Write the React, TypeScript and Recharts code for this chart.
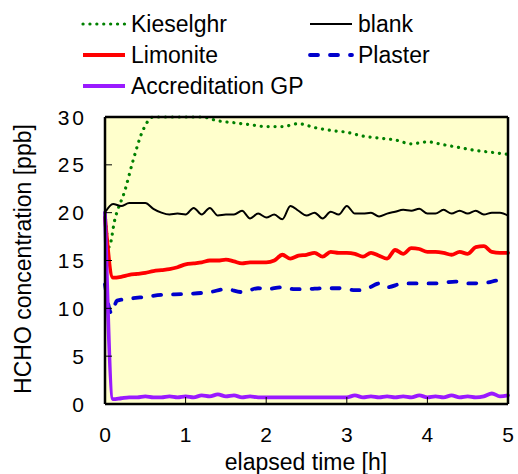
import React from 'react';
import { LineChart, Line, XAxis, YAxis, ReferenceArea, ReferenceLine } from 'recharts';

// Tiempos comunes (h) cada 0.1 h
const TIMES = [
  0, 0.1, 0.2, 0.3, 0.4, 0.5, 0.6, 0.7, 0.8, 0.9,
  1.0, 1.1, 1.2, 1.3, 1.4, 1.5, 1.6, 1.7, 1.8, 1.9,
  2.0, 2.1, 2.2, 2.3, 2.4, 2.5, 2.6, 2.7, 2.8, 2.9,
  3.0, 3.1, 3.2, 3.3, 3.4, 3.5, 3.6, 3.7, 3.8, 3.9,
  4.0, 4.1, 4.2, 4.3, 4.4, 4.5, 4.6, 4.7, 4.8, 4.9,
  5.0,
];

const BLANK = [
  20.0, 20.9, 20.7, 21.0, 21.0, 21.0, 20.4, 20.0, 19.8, 19.9,
  19.8, 20.5, 19.8, 20.5, 19.7, 19.8, 19.8, 20.2, 19.4, 19.9,
  19.5, 19.8, 19.3, 20.7, 20.2, 19.7, 20.0, 19.4, 20.1, 19.8,
  20.7, 19.9, 19.9, 20.0, 19.6, 19.9, 20.1, 20.3, 20.2, 20.4,
  19.9, 19.9, 20.3, 19.9, 20.2, 19.9, 20.2, 19.8, 20.0, 20.0,
  19.7,
];

const LIMONITE = [
  19.5, 13.2, 13.3, 13.5, 13.6, 13.7, 13.9, 14.0, 14.1, 14.3,
  14.6, 14.7, 14.8, 15.0, 15.0, 15.1, 14.9, 14.7, 14.8, 14.8,
  14.8, 15.0, 15.6, 15.2, 15.5, 15.6, 15.8, 15.4, 15.9, 15.8,
  15.8, 15.7, 15.4, 15.8, 15.5, 15.2, 16.1, 15.7, 16.3, 16.2,
  15.9, 15.9, 15.8, 15.6, 15.9, 15.7, 16.4, 16.5, 15.9, 15.8,
  15.8,
];

const ACCREDITATION = [
  20, 0.5, 0.6, 0.7, 0.7, 0.8, 0.7, 0.7, 0.8, 0.7,
  0.8, 0.7, 0.9, 0.8, 1.0, 0.8, 0.9, 0.7, 0.8, 0.7,
  0.7, 0.7, 0.7, 0.7, 0.7, 0.7, 0.7, 0.7, 0.7, 0.7,
  0.7, 0.9, 0.7, 0.8, 0.7, 0.8, 0.7, 0.8, 0.7, 0.9,
  0.7, 0.8, 0.7, 0.9, 0.7, 0.8, 0.7, 0.8, 1.1, 0.8,
  0.9,
];

const KIESEL_TIMES = [0, 0.05, 0.12, 0.25, 0.35, 0.47, 0.6, 0.8, 1.0, 1.2, 1.4, 1.6, 1.8, 2.0, 2.2, 2.4, 2.6, 2.8, 3.0, 3.2, 3.4, 3.6, 3.8, 4.0, 4.2, 4.4, 4.6, 4.8, 5.0];
const KIESEL = [20, 16.4, 19.2, 22.4, 25.5, 28.6, 30, 30, 30, 30, 29.6, 29.4, 29.2, 29.0, 29.0, 29.3, 28.9, 28.6, 28.4, 28.0, 27.8, 27.6, 27.2, 27.4, 27.1, 26.8, 26.5, 26.3, 26.1];

const PLASTER_TIMES = [0, 0.08, 0.15, 0.3, 0.5, 0.7, 1.0, 1.3, 1.5, 1.7, 1.9, 2.0, 2.2, 2.35, 2.5, 2.7, 2.9, 3.1, 3.2, 3.4, 3.5, 3.7, 3.9, 4.1, 4.35, 4.5, 4.75, 4.85, 5.0];
const PLASTER = [12.5, 9.5, 10.8, 11.0, 11.2, 11.4, 11.5, 11.7, 12.0, 11.7, 12.1, 12.0, 12.2, 12.0, 12.0, 12.1, 12.1, 11.9, 11.9, 12.6, 12.2, 12.6, 12.6, 12.6, 12.8, 12.6, 12.7, 12.9, 13.0];

const X_TICKS = [0, 1, 2, 3, 4, 5];
const Y_TICKS = [0, 5, 10, 15, 20, 25, 30];

const FONT = '"Liberation Sans", Arial, sans-serif';

const toPoints = (xs: number[], ys: number[]) => xs.map((t, i) => ({ t, v: ys[i] }));

const SERIES = [
  { name: 'Kieselghr', color: '#008000', width: 3.2, dash: '0.1 6.8', data: toPoints(KIESEL_TIMES, KIESEL) },
  { name: 'blank', color: '#000000', width: 2, dash: undefined, data: toPoints(TIMES, BLANK) },
  { name: 'Limonite', color: '#ff0000', width: 3.8, dash: undefined, data: toPoints(TIMES, LIMONITE) },
  { name: 'Plaster', color: '#0000cc', width: 3.8, dash: '8 12', data: toPoints(PLASTER_TIMES, PLASTER) },
  { name: 'Accreditation GP', color: '#9a1aff', width: 3.8, dash: undefined, data: toPoints(TIMES, ACCREDITATION) },
];

function XTick({ x, y, payload }: any) {
  return (
    <g>
      <line x1={x} y1={y} x2={x} y2={y - 7} stroke="#000" strokeWidth={1} />
      <text x={x} y={y + 38} textAnchor="middle" fontSize={21} fontFamily={FONT} fill="#000">
        {payload.value}
      </text>
    </g>
  );
}

function YTick({ x, y, payload }: any) {
  return (
    <g>
      <line x1={x} y1={y} x2={x + 7} y2={y} stroke="#000" strokeWidth={1} />
      <text x={x - 18} y={y + 7.5} textAnchor="end" fontSize={21} letterSpacing={3} fontFamily={FONT} fill="#000">
        {payload.value}
      </text>
    </g>
  );
}

function YTitle() {
  return (
    <text transform="translate(31, 259) rotate(-90)" textAnchor="middle" fontSize={23} fontFamily={FONT} fill="#000">
      HCHO concentration [ppb]
    </text>
  );
}

function XTitle() {
  return (
    <text x={306} y={470} textAnchor="middle" fontSize={23} fontFamily={FONT} fill="#000">
      elapsed time [h]
    </text>
  );
}

function LegendItem({ s, left, top }: any) {
  return (
    <div style={{ position: 'absolute', left, top, display: 'flex', alignItems: 'center', height: 30 }}>
      <svg width={46} height={10} style={{ marginRight: 4 }}>
        <line
          x1={2}
          y1={5}
          x2={44}
          y2={5}
          stroke={s.color}
          strokeWidth={s.width}
          strokeDasharray={s.dash}
          strokeLinecap={s.dash ? 'round' : 'butt'}
        />
      </svg>
      <span style={{ fontFamily: FONT, fontSize: 23, color: '#000', whiteSpace: 'nowrap' }}>{s.name}</span>
    </div>
  );
}

export default function App() {
  const byName = (n: string) => SERIES.find((s) => s.name === n)!;
  return (
    <div style={{ position: 'absolute', left: 0, top: 0, width: 518, height: 474, background: '#fff' }}>
      <LineChart width={518} height={474} margin={{ top: 117, right: 10, bottom: 40, left: 0 }}>
        {/* fondo amarillo */}
        <ReferenceArea x1={0} x2={5} y1={0} y2={30} fill="#ffffcc" fillOpacity={1} ifOverflow="visible" />
        <XAxis
          type="number"
          dataKey="t"
          domain={[0, 5]}
          ticks={X_TICKS}
          tickSize={0}
          tickMargin={0}
          tick={<XTick />}
          height={30}
          stroke="#000"
          strokeWidth={2.5}
          allowDuplicatedCategory={false}
          label={<XTitle />}
        />
        <YAxis
          type="number"
          dataKey="v"
          domain={[0, 30]}
          ticks={Y_TICKS}
          tickSize={0}
          tickMargin={0}
          tick={<YTick />}
          width={105}
          stroke="#000"
          strokeWidth={2.5}
          label={<YTitle />}
        />
        {SERIES.map((s) => (
          <Line
            key={s.name}
            data={s.data}
            dataKey="v"
            type="monotone"
            stroke={s.color}
            strokeWidth={s.width}
            strokeDasharray={s.dash}
            strokeLinecap="round"
            dot={false}
            activeDot={false}
            isAnimationActive={false}
          />
        ))}
        {/* marco superior y derecho */}
        <ReferenceLine y={30} stroke="#000" strokeWidth={2.5} ifOverflow="visible" />
        <ReferenceLine x={5} stroke="#000" strokeWidth={2.5} ifOverflow="visible" />
      </LineChart>
      <LegendItem s={byName('Kieselghr')} left={81} top={9} />
      <LegendItem s={byName('blank')} left={308} top={9} />
      <LegendItem s={byName('Limonite')} left={81} top={40} />
      <LegendItem s={byName('Plaster')} left={308} top={40} />
      <LegendItem s={byName('Accreditation GP')} left={81} top={71} />
    </div>
  );
}
